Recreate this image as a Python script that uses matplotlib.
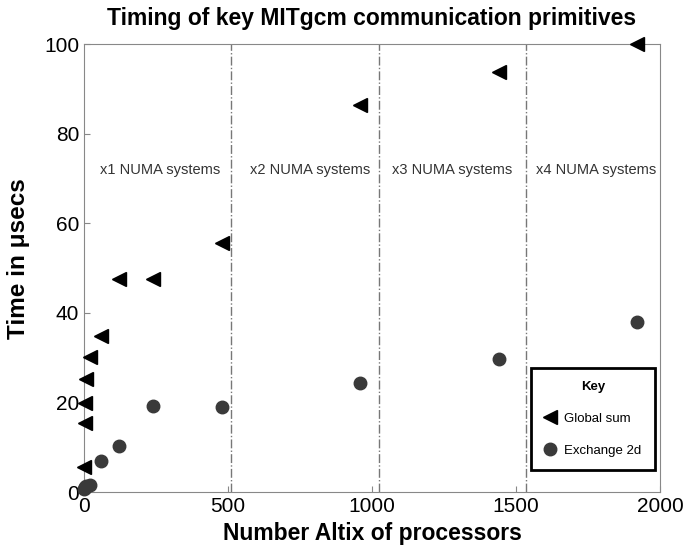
import matplotlib
matplotlib.use("Agg")
import matplotlib.pyplot as plt

plt.rcParams['font.family'] = ['Liberation Sans', 'DejaVu Sans']

# processor counts and timings (usecs)
procs = [1, 2, 4, 8, 20, 60, 120, 240, 480, 960, 1440, 1920]
global_sum = [5.6, 15.4, 19.8, 25.2, 30.2, 34.8, 47.5, 47.5, 55.6, 86.4, 93.8, 100.0]
exchange_2d = [0.8, 1.0, 1.2, 1.4, 1.6, 6.9, 10.3, 19.2, 19.0, 24.3, 29.7, 38.0]

# NUMA system boundaries and labels
numa_bounds = [512, 1024, 1536]
numa_labels = ["x1 NUMA systems", "x2 NUMA systems", "x3 NUMA systems", "x4 NUMA systems"]
numa_label_x = [265, 785, 1278, 1778]

fig = plt.figure(figsize=(6.86, 5.48), dpi=100)
ax = fig.add_axes([0.1224, 0.102, 0.8397, 0.8175])

ax.plot(procs, global_sum, linestyle="none", marker="<", markersize=10,
        color="black", label="Global sum", clip_on=False, zorder=3)
ax.plot(procs, exchange_2d, linestyle="none", marker="o", markersize=9,
        color="#3a3a3a", label="Exchange 2d", clip_on=False, zorder=3)

for b in numa_bounds:
    ax.axvline(b, color="#777777", linestyle="-.", linewidth=1)

for lx, lab in zip(numa_label_x, numa_labels):
    ax.text(lx, 72, lab, ha="center", va="center", fontsize=10.5, color="#333333")

ax.set_xlim(0, 2000)
ax.set_ylim(0, 100)
ax.set_xticks([0, 500, 1000, 1500, 2000])
ax.set_yticks([0, 20, 40, 60, 80, 100])
ax.tick_params(direction="in", labelsize=15, length=4, color="#888888")
for s in ax.spines.values():
    s.set_color("#888888")

ax.set_title("Timing of key MITgcm communication primitives", fontsize=16.5,
             fontweight="bold", pad=14)
ax.set_xlabel("Number Altix of processors", fontsize=16.5, fontweight="bold", labelpad=4)
ax.set_ylabel("Time in \u03bcsecs", fontsize=17.5, fontweight="bold")
ax.yaxis.set_label_coords(-0.094, 0.522)

leg = ax.legend(title="Key", loc="lower right", bbox_to_anchor=(0.991, 0.049),
                borderaxespad=0,
                fontsize=9.5, title_fontproperties={"weight": "bold", "size": 9.5},
                fancybox=False, framealpha=1, edgecolor="black",
                labelspacing=1.5, borderpad=1.0, handletextpad=0.7, numpoints=1,
                handlelength=0.8)
leg.get_frame().set_linewidth(2)
leg._legend_box.sep = 14

fig.savefig("out.png", dpi=100)
